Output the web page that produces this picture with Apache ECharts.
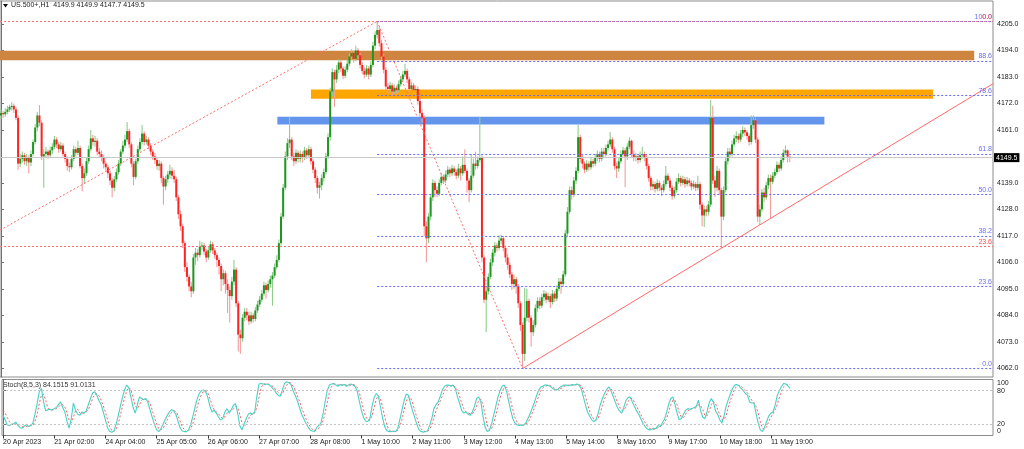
<!DOCTYPE html>
<html><head><meta charset="utf-8">
<script src="https://cdn.jsdelivr.net/npm/echarts@6/dist/echarts.min.js"></script>
<style>html,body{margin:0;padding:0;background:#fff;}#c{width:1024px;height:449px;}</style>
</head><body><div id="c"></div><script>
// ---------------- data (US.500+, H1, bars indexed from 20 Apr 2023 01:00) ----------------
const firstOpen = 4167;
const closes = [
4168,4167.5,4168.5,4169.5,4170.5,4171,4169.5,4166,4147,4149,
4150.5,4148,4149.5,4147.5,4151,4156,4162,4167,4164,4150,
4151,4152,4150.5,4152.5,4154,4157,4155,4153,4154.5,4151,
4149,4146,4145.5,4149,4153,4151.5,4153.5,4146,4141,4143,
4148,4153,4157.5,4156,4156.5,4152,4151,4149.5,4147,4145.5,
4143,4140,4137,4140.5,4143.5,4147,4152,4154.5,4157,4160.5,
4155,4147,4141.5,4148,4153,4156,4159.5,4156,4157,4154.5,
4152,4150,4148.5,4146,4147,4141,4137.5,4140.5,4142.5,4144,
4142,4140.5,4133,4126,4121,4114,4104,4100,4096,4094,
4108,4110,4109,4112.5,4113,4110.5,4108,4111,4113.5,4111,
4109,4107,4104.5,4099,4101.5,4097,4094.5,4092,4098,4103,
4089,4076,4074.5,4083,4085.5,4084,4081.5,4084,4082.5,4086,
4088.5,4090.5,4093,4096.5,4094.5,4097,4099,4100.5,4104,4107,
4114,4125,4137,4150,4155.5,4157,4150,4148,4151.5,4149,
4151,4149.5,4152.5,4150.5,4153,4148,4144.5,4141,4137,4138,
4141,4143.5,4150,4158,4177,4185,4182,4186,4189,4186.5,
4183.5,4186,4188.5,4191.5,4193,4190.5,4194,4192,4188,4185.5,
4184,4186.5,4184,4188,4196,4200.5,4202.5,4197,4191.5,4186,
4179,4178,4179.5,4177,4178.5,4177.5,4180,4182,4184,4185.5,
4182,4178,4179.5,4177.5,4178,4173,4168,4166,4121,4116,
4125,4133,4139,4136,4134.5,4139,4141.5,4140,4142.5,4144.5,
4143,4145,4143.5,4142,4145,4143,4146.5,4144,4140,4136,
4142,4147,4146,4148.5,4149.5,4108,4090.5,4094,4100,4106,
4110,4113,4112,4115,4116,4112,4108,4105,4101,4097,
4099,4096,4089,4080,4068,4083,4090,4083,4077,4080,
4087,4090,4088,4091.5,4093,4090.5,4092,4089.5,4093,4091,
4095,4098,4097,4101,4118,4127,4136,4134,4140,4144,
4158,4149,4147,4144.5,4147,4145.5,4148,4147,4149.5,4151,
4149,4152,4151,4153.5,4155,4157,4153,4146,4145,4148,
4151,4152.5,4150,4154,4156.5,4151,4149.5,4150,4148.5,4150.5,
4151,4149.5,4146,4141,4137.5,4138.5,4136.5,4139,4137,4136,
4138.5,4142,4140,4137,4133.5,4136,4139.5,4141,4139,4140.5,
4138.5,4140,4139,4137.5,4138.5,4137,4138.5,4130,4125.5,4128,
4127,4130,4166,4140,4137,4144,4136,4125,4136,4148,
4152,4151,4155,4157.5,4158.5,4157,4159.5,4161,4160,4158.5,
4156,4163,4165,4157,4125,4128,4135,4133,4138,4141,
4139.5,4142,4143.5,4146.5,4145,4148.5,4151.5,4152.5,4149.9,4149.5];
const highs = [
4169.5,4169,4170,4171,4171.5,4172.5,4172,4170.5,4167,4151,
4152,4151.5,4151,4150.5,4152.5,4157,4163.5,4168.5,4171.3,4165,
4153,4154,4153,4154,4155.5,4158.5,4158,4156,4156,4155.5,
4152,4150,4147.5,4150.5,4154.5,4154,4156.5,4154.5,4147,4145,
4149.5,4154.5,4161,4159,4158.5,4157.5,4153.5,4152.5,4150.5,4148,
4146.5,4144,4141,4142,4145,4148.5,4153,4156.5,4159,4164.3,
4161.5,4156,4148,4149,4154.5,4157.5,4163,4160.5,4158.5,4158,
4155.5,4153,4151.5,4149.5,4148.5,4148,4142,4142,4144,4146.5,
4145.5,4144.5,4141.5,4134,4127.5,4122,4115,4106,4101,4098,
4109.5,4112,4111.5,4115,4114.5,4114,4111.5,4112.5,4115,4114.5,
4112,4110,4108,4105.5,4103,4102.5,4099,4096,4100,4107,
4104,4090,4078,4084.5,4087,4087,4085.5,4085.5,4085,4087.5,
4090,4092,4094.5,4098,4097.5,4098.5,4100.5,4102,4105.5,4109,
4115.5,4126.5,4138.5,4152,4157.5,4166.5,4158,4151.5,4153,4152.5,
4152.5,4152,4154,4153.5,4154.5,4154,4149,4145.5,4142,4139.5,
4142.5,4145,4151.5,4159.5,4178.5,4186.5,4186,4188,4190.5,4190,
4187.5,4187.5,4190,4193,4194.5,4194,4196,4195,4193,4189,
4187,4188,4187.5,4189.5,4197.5,4202,4206.1,4204,4198.5,4192.5,
4187,4180.5,4181,4180.5,4180,4179.5,4181.5,4183.5,4185.5,4188.5,
4186.5,4183,4181,4180.5,4179.5,4179,4174,4169.5,4167,4123,
4126.5,4134.5,4140.5,4140,4137.5,4140.5,4143,4142.5,4144,4146,
4145.5,4146.5,4146,4144.5,4147,4146,4150,4153,4145,4141,
4151,4149,4152,4150,4166.5,4150.5,4109,4096,4101.5,4107.5,
4111.5,4114.5,4114,4117.3,4117.5,4117,4113,4109.5,4106,4102,
4101,4100,4097,4090,4081,4095.5,4095,4091,4084,4082,
4088.5,4091.5,4091.5,4093,4094.5,4094,4093.5,4093,4094.5,4094,
4096.5,4099.5,4099.5,4102.5,4119.5,4129,4137.5,4137.5,4141.5,4145.5,
4163,4159,4150.5,4148,4148.5,4148,4149.5,4149,4151,4152.5,
4152,4153.5,4153.5,4155,4156.5,4160.1,4158,4154,4147.5,4149.5,
4152.5,4154,4153.5,4155.5,4158,4157,4152.5,4151.5,4151,4152,
4154,4152,4150.5,4147,4142,4140,4139.5,4140.5,4140,4138,
4140,4146,4143,4141,4138,4137.5,4141,4143,4142,4142,
4141.5,4141.5,4141,4140,4140,4139.5,4142,4139.5,4131,4129.5,
4129.5,4131.5,4173.4,4171,4142,4146,4145,4137,4137.5,4149.5,
4153.5,4153.5,4156.5,4159,4160.5,4159.5,4161,4162.5,4162,4161,
4159.5,4167,4167,4166,4158,4130,4136.5,4137,4139.5,4142.5,
4142.5,4143.5,4145,4148,4147.5,4150,4153,4154.5,4153,4149.9];
const lows = [
4165.5,4166,4166.5,4167.5,4168.5,4169,4168,4165,4144.5,4145.5,
4147.5,4146.5,4146,4143,4146,4150,4155,4160.5,4162.5,4148.5,
4137,4149.5,4149,4149.5,4151,4153,4153.5,4151.5,4152,4150,
4147.5,4144,4143.5,4144.5,4148,4150,4150.5,4145,4135.5,4139,
4142,4147,4152,4154.5,4154,4150.5,4149.5,4148,4145,4144,
4141,4138,4133,4135.5,4139.5,4142.5,4146,4151,4153.5,4156,
4153.5,4145.5,4138,4140.5,4147,4152,4155,4154.5,4155,4153,
4150.5,4148.5,4147,4144.5,4144,4139,4130,4136,4139,4141,
4140.5,4139,4131.5,4124,4119,4112,4102,4098,4094,4091.5,
4093,4105,4106.5,4108,4111,4109,4106,4107,4110,4109.5,
4107.5,4104,4101,4094,4096.5,4093,4085,4081,4090.5,4096.5,
4087.5,4069,4068,4073,4081.5,4082,4080,4080.5,4081,4081.5,
4085,4087.5,4089.5,4092,4091,4093.5,4095.5,4088,4099.5,4103,
4106,4113,4124,4136,4148.5,4153.5,4148.5,4146,4147,4147.5,
4147.5,4147.5,4148.5,4149,4149.5,4146.5,4143,4139,4134.5,4132.5,
4136,4139.5,4142.5,4149,4156.5,4175,4170.5,4180.5,4184.5,4185,
4182,4182.5,4185,4187.5,4190,4189,4189.5,4190.5,4186.5,4184,
4182.5,4183,4182,4183,4187,4194.5,4199,4195.5,4190,4184.5,
4177.5,4176,4176.5,4175.5,4176,4176,4176.5,4179,4181,4183,
4180.5,4176.5,4177,4176,4175.5,4171.5,4166.5,4164,4117,4106,
4114,4123.5,4131.5,4133,4133,4133.5,4138,4138.5,4139,4141.5,
4141.5,4142,4142,4140.5,4141,4140,4142,4143,4135,4131,
4135,4141,4144.5,4145,4147.5,4106,4089,4077,4092.5,4099,
4104.5,4108.5,4110.5,4111,4113.5,4110.5,4106,4103,4099.5,4094.5,
4095,4093,4087,4077.5,4062,4065,4081.5,4081,4071,4075.5,
4079,4085.5,4086.5,4087,4090,4089,4089.5,4087,4088.5,4089.5,
4090,4094,4093,4096,4100,4116.5,4126,4132,4133,4138.5,
4143,4147.5,4145,4143,4143.5,4144,4144.5,4145.5,4146,4148,
4147.5,4148,4149.5,4150,4152.5,4154,4151.5,4144.5,4141,4143.5,
4147,4150,4137.3,4148.5,4153,4149.5,4148,4148,4147,4147.5,
4149,4148,4144.5,4139.5,4136,4136,4135,4135.5,4135.5,4133.5,
4135,4137.5,4138.5,4135.5,4132,4132.5,4135,4138.5,4137.5,4138,
4137,4137.5,4137.5,4136,4136.5,4135.5,4136,4128,4121,4120.7,
4125,4125.5,4129,4138.5,4133,4135.5,4134,4112,4123.5,4135,
4146.5,4149.5,4150,4154,4156,4155.5,4156,4158,4158.5,4157,
4154.5,4155,4161.5,4155.5,4122.8,4121.5,4127,4131,4132,4136.5,
4124,4138.5,4141,4142.5,4143.5,4144,4147.5,4150.5,4147.5,4147.7];
// Stochastic (8,5,3): %K main and %D signal
const stochK = [
36,28,19,18,20,21,24,18,14,13, 17,19,16,18,22,38,57,78,84,60,
44,46,47,45,48,50,55,60,50,42, 25,13,30,58,45,38,36,42,40,44,
55,66,76,78,72,62,55,42,28,14, 7,6,8,20,35,52,68,82,90,85,
68,50,40,55,69,66,64,66,58,45, 32,20,10,7,12,20,28,36,42,46,
44,38,26,14,8,7,7,10,20,34, 50,65,75,80,81,78,68,52,42,45,
40,33,28,30,42,48,40,46,54,57, 40,18,10,20,30,38,40,38,42,70,
92,93,92,91,92,90,86,82,76,72, 70,82,93,96,94,91,80,72,62,50,
38,30,22,15,10,8,7,14,18,22, 38,60,80,90,92,93,90,88,91,90,
91,88,90,92,90,88,80,62,45,32, 26,25,30,52,68,75,70,50,30,15,
8,7,7,8,7,12,28,45,62,74, 72,58,44,32,20,10,7,6,7,8,
18,30,48,55,60,70,82,88,90,90, 88,90,84,70,58,45,40,42,38,36,
42,52,66,69,60,35,15,7,9,20, 36,52,68,80,88,90,80,62,45,30,
22,19,18,19,18,22,30,38,48,58, 70,80,86,88,90,90,89,86,83,81,
82,86,88,90,90,89,90,91,90,92, 90,84,70,55,42,35,28,25,28,40,
55,66,75,82,87,80,70,60,50,44, 40,50,62,68,69,60,52,44,38,30,
22,16,12,10,11,13,12,18,16,22, 28,40,55,66,69,55,40,28,30,38,
45,48,47,48,50,52,63,45,33,30, 42,58,66,60,44,38,28,22,35,52,
64,74,84,90,91,89,84,80,75,72, 60,58,58,40,22,10,7,15,25,35,
40,42,55,72,81,88,93,92,88,84.15];
const stochD = [
45,40,32,25,20,19,21,21,19,16, 15,16,17,18,18,25,38,57,72,74,
63,50,46,46,46,48,51,55,55,51, 40,27,23,33,44,47,40,39,40,42,
46,55,66,73,75,71,63,53,42,28, 16,9,7,11,21,36,52,67,80,86,
81,68,53,48,55,63,66,65,63,56, 45,32,21,12,10,13,20,28,35,41,
44,43,36,26,16,10,7,8,12,21, 35,50,63,73,79,80,76,66,54,46,
42,39,34,30,33,40,43,45,47,52, 50,38,23,16,20,29,36,39,40,50,
68,85,92,92,92,91,89,86,81,77, 73,75,82,90,94,94,88,81,71,61,
50,39,30,22,16,11,8,10,13,18, 26,40,59,77,87,92,92,90,90,90,
90,90,90,90,91,90,86,77,62,46, 34,28,27,36,50,65,71,65,50,32,
18,10,7,7,7,9,16,28,45,60, 69,68,58,45,32,21,12,8,7,7,
11,19,32,44,54,62,71,80,87,89, 89,89,87,81,71,58,48,42,40,39,
39,43,53,62,65,55,37,19,10,12, 22,36,52,67,79,86,86,77,62,46,
32,24,20,19,18,20,23,30,39,48, 59,69,79,85,88,89,90,88,86,83,
82,83,85,88,89,90,90,90,90,91, 91,89,81,70,56,44,35,29,27,31,
41,54,65,74,81,83,79,70,60,51, 45,45,51,60,66,66,60,52,45,37,
30,23,17,13,11,11,12,14,15,19, 22,30,41,54,63,63,55,41,33,32,
38,44,47,48,48,50,55,53,47,36, 35,43,55,61,57,47,37,29,28,36,
50,63,74,83,88,90,88,84,80,76, 69,63,59,52,40,24,13,11,16,25,
33,39,46,56,69,80,87,91,91,91.01];
// time-axis labels (bar index where each label sits)
const timeLabelBars = [0,24,48,72,96,120,144,168,192,216,240,264,288,312,336,360];
const timeLabels = ['20 Apr 2023','21 Apr 02:00','24 Apr 04:00','25 Apr 05:00','26 Apr 06:00','27 Apr 07:00','28 Apr 08:00','1 May 10:00','2 May 11:00','3 May 12:00','4 May 13:00','5 May 14:00','8 May 16:00','9 May 17:00','10 May 18:00','11 May 19:00'];
const priceTickValues = [4062,4073,4084,4095,4106,4117,4128,4139,4161,4172,4183,4194,4205];
const stochTicks = [0,20,80,100];
const lastPrice = 4149.5;
// drawn objects
const zoneBrown = [-0.47, 4193.9, 455.3, 4189.9];   // [bar from, price top, bar to, price bottom]
const zoneOrange = [145.0, 4177.8, 436.0, 4174.0];
const zoneBlue = [129.3, 4166.5, 385.2, 4163.3];
const fibBlueStartBar = 176;
const fibBlueLevels = ['100.0','88.6','78.6','61.8','50.0','38.2','23.6','0.0'];
const fibBluePrices = [4206.1,4189.7,4175.3,4151.1,4134.1,4117.0,4096.0,4062.0];
const fibRedLevels = ['23.6','0.0'];
const fibRedPrices = [4112.5,4206.1];
const fibRedDiagonal = [[-0.47,4119.4],[176,4206.1]];
const fibBlueDiagonal = [[176,4206.1],[244,4062.0]];
const supportTrend = [[244.2,4062.0],[464.1,4180.2]];

// ---------------- chart ----------------
const FONT = '"Liberation Sans", Arial, sans-serif';
const X_MIN = -0.468, X_MAX = 464.09;
const Y_MIN = 4058.39, Y_MAX = 4214.55;

const candleData = closes.map((c, i) => [i, i ? closes[i-1] : firstOpen, c, lows[i], highs[i]]);

function renderCandle(params, api) {
  const i = api.value(0), o = api.value(1), c = api.value(2), l = api.value(3), h = api.value(4);
  const pO = api.coord([i, o]), pC = api.coord([i, c]);
  const pL = api.coord([i, l]), pH = api.coord([i, h]);
  const x = pO[0];
  const up = c >= o;
  const top = Math.min(pO[1], pC[1]), bot = Math.max(pO[1], pC[1]);
  return {type:'group', children:[
    {type:'line', shape:{x1:x, y1:pH[1], x2:x, y2:pL[1]}, style:{stroke: up ? '#8fce8f' : '#f59d9d', lineWidth:1.1}},
    {type:'rect', shape:{x:x-1, y:top, width:2, height:Math.max(1, bot-top)}, style:{fill: up ? '#1f961f' : '#ff2222'}}
  ]};
}

const area = (z, col) => [{coord:[z[0], z[1]], itemStyle:{color:col}}, {coord:[z[2], z[3]]}];

const fibBlueLines = fibBluePrices.map((p, k) => [
  {coord:[fibBlueStartBar, p], label:{formatter: fibBlueLevels[k]}},
  {coord:[X_MAX, p]}]);
const fibRedLines = fibRedPrices.map((p, k) => [
  {coord:[X_MIN, p], label:{formatter: fibRedLevels[k]}},
  {coord:[X_MAX, p]}]);

const smallLbl = {fontSize:7, fontFamily:FONT};

const option = {
  animation: false,
  backgroundColor: '#ffffff',
  grid: [
    {left:0, top:1, width:993, height:376, show:true, borderColor:'#8c8c8c', borderWidth:1},
    {left:0, top:379.5, width:993, height:56, show:true, borderColor:'#8c8c8c', borderWidth:1}
  ],
  xAxis: [
    {type:'value', gridIndex:0, min:X_MIN, max:X_MAX, axisLine:{show:false}, axisTick:{show:false}, axisLabel:{show:false}, splitLine:{show:false}},
    {type:'value', gridIndex:1, min:X_MIN, max:X_MAX, axisLine:{show:false},
     axisTick:{show:true, customValues: timeLabelBars, length:3, lineStyle:{color:'#333'}},
     axisLabel:{show:true, customValues: timeLabelBars, formatter: v => timeLabels[timeLabelBars.indexOf(Math.round(v))], align:'left', margin:3, color:'#1a1a1a', ...smallLbl},
     splitLine:{show:false}}
  ],
  yAxis: [
    {type:'value', gridIndex:0, position:'right', min:Y_MIN, max:Y_MAX,
     axisLine:{show:true, lineStyle:{color:'#707070'}},
     axisTick:{show:true, customValues: priceTickValues, length:3, lineStyle:{color:'#707070'}},
     axisLabel:{show:true, customValues: priceTickValues, formatter: v => v.toFixed(1), margin:4, color:'#1a1a1a', ...smallLbl},
     splitLine:{show:false}},
    {type:'value', gridIndex:1, position:'right', min:0, max:100,
     axisLine:{show:true, lineStyle:{color:'#707070'}},
     axisTick:{show:true, customValues: stochTicks, length:3, lineStyle:{color:'#707070'}},
     axisLabel:{show:true, customValues: stochTicks, margin:4, color:'#1a1a1a', ...smallLbl,
       formatter: v => v === 100 ? '{t|100}' : (v === 0 ? '{b|0}' : String(v)),
       rich:{t:{padding:[8,0,0,0], ...smallLbl, color:'#1a1a1a'}, b:{padding:[0,0,8,0], ...smallLbl, color:'#1a1a1a'}}},
     splitLine:{show:false}}
  ],
  series: [
    {type:'line', xAxisIndex:0, yAxisIndex:0, data:[], silent:true, z:1,
     markArea:{silent:true, data:[area(zoneBrown,'#cd853f'), area(zoneOrange,'#ffa500'), area(zoneBlue,'#6495ed')]},
     markLine:{silent:true, symbol:['none','none'], label:{show:true, position:'end', formatter: lastPrice.toFixed(1), color:'#fff', backgroundColor:'#000', padding:[1,2,1,2], distance:1, ...smallLbl},
       lineStyle:{color:'#c8c8c8', type:'solid', width:1}, data:[{yAxis:lastPrice}]}},
    {type:'custom', xAxisIndex:0, yAxisIndex:0, renderItem: renderCandle, data: candleData, encode:{x:0, y:[1,2,3,4]}, z:3, silent:true},
    {type:'line', xAxisIndex:0, yAxisIndex:0, data:fibRedDiagonal, symbol:'none', silent:true, z:4, lineStyle:{color:'#ff6e6e', width:1, type:[2,2]}},
    {type:'line', xAxisIndex:0, yAxisIndex:0, data:fibBlueDiagonal, symbol:'none', silent:true, z:4, lineStyle:{color:'#ff6e6e', width:1, type:[2,2]}},
    {type:'line', xAxisIndex:0, yAxisIndex:0, data:supportTrend, symbol:'none', silent:true, z:4, lineStyle:{color:'#ff6a6a', width:1, type:'solid'}},
    {type:'line', xAxisIndex:0, yAxisIndex:0, data:[], silent:true, z:5,
     markLine:{silent:true, symbol:['none','none'], lineStyle:{color:'#6b6bff', width:1, type:[2,2]},
       label:{show:true, position:'insideEndTop', distance:1, color:'#6b6bff', ...smallLbl}, data: fibBlueLines}},
    {type:'line', xAxisIndex:0, yAxisIndex:0, data:[], silent:true, z:6,
     markLine:{silent:true, symbol:['none','none'], lineStyle:{color:'#ff6e6e', width:1, type:[2,2]},
       label:{show:true, position:'insideEndTop', distance:1, color:'#ff4a4a', ...smallLbl}, data: fibRedLines}},
    {type:'line', xAxisIndex:1, yAxisIndex:1, data: stochD.map((v,i)=>[i,v]), symbol:'none', silent:true, z:3,
     lineStyle:{color:'#ff5c5c', width:1, type:[2,2]},
     markLine:{silent:true, symbol:['none','none'], label:{show:false}, lineStyle:{color:'#c4c4c4', width:1, type:[2,2]}, data:[{yAxis:20},{yAxis:80}]}},
    {type:'line', xAxisIndex:1, yAxisIndex:1, data: stochK.map((v,i)=>[i,v]), symbol:'none', silent:true, z:4,
     lineStyle:{color:'#46d2c6', width:1.1}}
  ],
  graphic: [
    {type:'polygon', shape:{points:[[3,4],[8,4],[5.5,7.5]]}, style:{fill:'#111'}},
    {type:'text', x:11, y:2, style:{text:'US.500+,H1  4149.9 4149.9 4147.7 4149.5', font:'7px "Liberation Sans", Arial, sans-serif', fill:'#222'}},
    {type:'text', x:3, y:382, style:{text:'Stoch(8,5,3) 84.1515 91.0131', font:'7px "Liberation Sans", Arial, sans-serif', fill:'#333'}}
  ]
};
const chart = echarts.init(document.getElementById('c'), null, {renderer:'canvas'});
chart.setOption(option);
</script></body></html>
